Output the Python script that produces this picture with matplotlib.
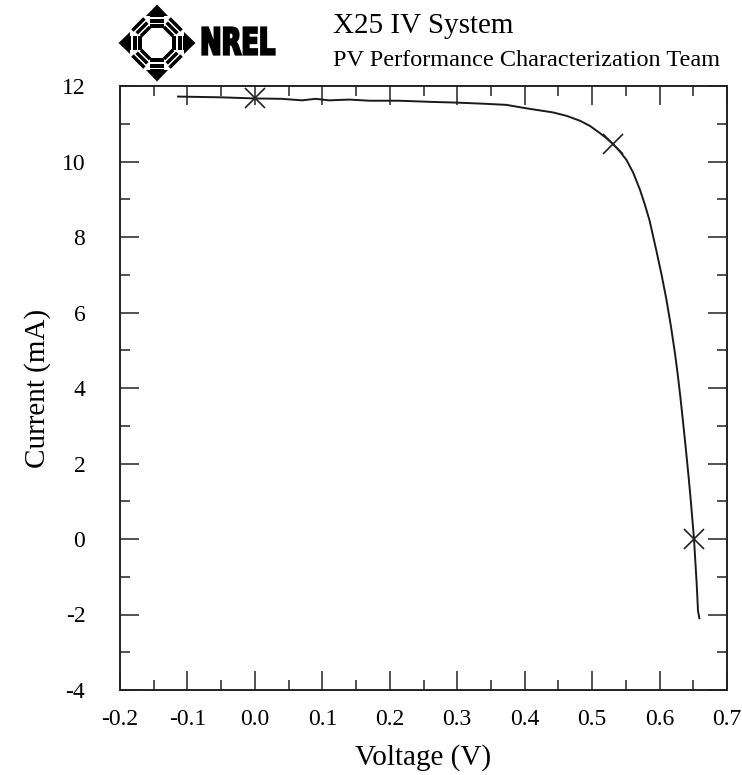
import numpy as np
import matplotlib
matplotlib.use("Agg")
import matplotlib.pyplot as plt
from matplotlib.ticker import MultipleLocator
from matplotlib.textpath import TextPath
from matplotlib.font_manager import FontProperties
from matplotlib.patches import PathPatch
from matplotlib.transforms import Affine2D

plt.rcParams['axes.unicode_minus'] = False
plt.rcParams['font.family'] = ['Liberation Serif', 'DejaVu Serif']

# IV curve
voltage = [-0.114, -0.05, 0.0, 0.04, 0.07, 0.09, 0.11, 0.14, 0.17, 0.214, 0.26,
           0.299, 0.34, 0.373, 0.402, 0.442, 0.462, 0.482, 0.497, 0.511, 0.521,
           0.531, 0.541, 0.551, 0.561, 0.571, 0.578, 0.585, 0.595, 0.603, 0.610,
           0.617, 0.623, 0.627, 0.631, 0.635, 0.639, 0.643, 0.646, 0.651, 0.655,
           0.657, 0.659]
current = [11.72, 11.70, 11.67, 11.66, 11.62, 11.66, 11.62, 11.64, 11.61, 11.61,
           11.58, 11.56, 11.53, 11.50, 11.41, 11.30, 11.21, 11.08, 10.94, 10.76,
           10.62, 10.46, 10.27, 10.04, 9.70, 9.25, 8.87, 8.45, 7.66, 7.00, 6.36,
           5.62, 4.90, 4.35, 3.74, 3.07, 2.38, 1.66, 1.08, 0.02, -1.17, -1.90,
           -2.10]

# Isc, Pmax, Voc markers
mark_v = [0.0, 0.531, 0.651]
mark_i = [11.67, 10.46, 0.0]

xticks = [-0.2, -0.1, 0.0, 0.1, 0.2, 0.3, 0.4, 0.5, 0.6, 0.7]
xticklabels = ['-0.2', '-0.1', '0.0', '0.1', '0.2', '0.3', '0.4', '0.5', '0.6', '0.7']
yticks = [-4, -2, 0, 2, 4, 6, 8, 10, 12]
yticklabels = ['-4', '-2', '0', '2', '4', '6', '8', '10', '12']

W, H = 742, 775
fig = plt.figure(figsize=(W / 100, H / 100), dpi=100, facecolor='white')
ax = fig.add_axes([120 / W, 1 - 690 / H, 607 / W, 604 / H])

ax.plot(voltage, current, color='#1a1a1a', linewidth=1.4)
ax.plot(mark_v, mark_i, linestyle='none', marker='x', markersize=14,
        markeredgewidth=1.2, color='#222222')

ax.set_xlim(-0.2, 0.7)
ax.set_ylim(-4, 12)
ax.set_xticks(xticks)
ax.set_xticklabels(xticklabels)
ax.set_yticks(yticks)
ax.set_yticklabels(yticklabels)
ax.xaxis.set_minor_locator(MultipleLocator(0.05))
ax.yaxis.set_minor_locator(MultipleLocator(1))
ax.tick_params(which='both', direction='in', top=True, right=True,
               width=1.1, color='#222222')
ax.tick_params(which='major', length=13.5)
ax.tick_params(which='minor', length=7)
ax.tick_params(axis='x', which='major', pad=14, labelsize=17)
ax.tick_params(axis='y', which='major', pad=25, labelsize=17)
for s in ax.spines.values():
    s.set_linewidth(1.4)
    s.set_color('#222222')

ax.set_xlabel('Voltage (V)', fontsize=21, labelpad=10)
ax.set_ylabel('Current (mA)', fontsize=21, labelpad=8)

# header overlay in pixel coordinates
lax = fig.add_axes([0, 0, 1, 1], zorder=-1)
lax.set_xlim(0, W)
lax.set_ylim(H, 0)
lax.axis('off')

lax.text(333, 33, 'X25 IV System', fontsize=21, va='baseline', ha='left')
lax.text(333, 66, 'PV Performance Characterization Team', fontsize=17.5,
         va='baseline', ha='left')

# NREL logo
cx, cy = 157, 43


def to_px(u, v, th):
    c, s = np.cos(th), np.sin(th)
    return cx + u * c - v * s, cy - (u * s + v * c)


def fill_local(pts, th):
    xy = [to_px(u, v, th) for u, v in pts]
    lax.fill([p[0] for p in xy], [p[1] for p in xy], color='black', lw=0)


for k in range(4):
    th = np.deg2rad(90 * k)
    fill_local([(27, -11), (38.5, 0), (27, 11)], th)
    for u0, u1 in [(15, 19), (20.5, 24.5), (26, 28)]:
        fill_local([(u0, -7), (u1, -7), (u1, 7), (u0, 7)], th)
for k in range(4):
    th = np.deg2rad(45 + 90 * k)
    for u0, u1, hw in [(14.5, 18, 6.5), (19.5, 23, 7.5), (24.5, 28, 8.5)]:
        fill_local([(u0, -hw), (u1, -hw), (u1, hw), (u0, hw)], th)

tp = TextPath((0, 0), 'NREL', prop=FontProperties(family='DejaVu Sans', weight='bold'))
ext = tp.get_extents()
sx = 72 / ext.width
sy = 27 / ext.height
tr = Affine2D().translate(-ext.x0, -ext.y0).scale(sx, -sy).translate(202.5, 54.5)
lax.add_patch(PathPatch(tr.transform_path(tp), facecolor='black',
                        edgecolor='black', lw=1.6))

fig.savefig('out.png', dpi=100, facecolor='white')
